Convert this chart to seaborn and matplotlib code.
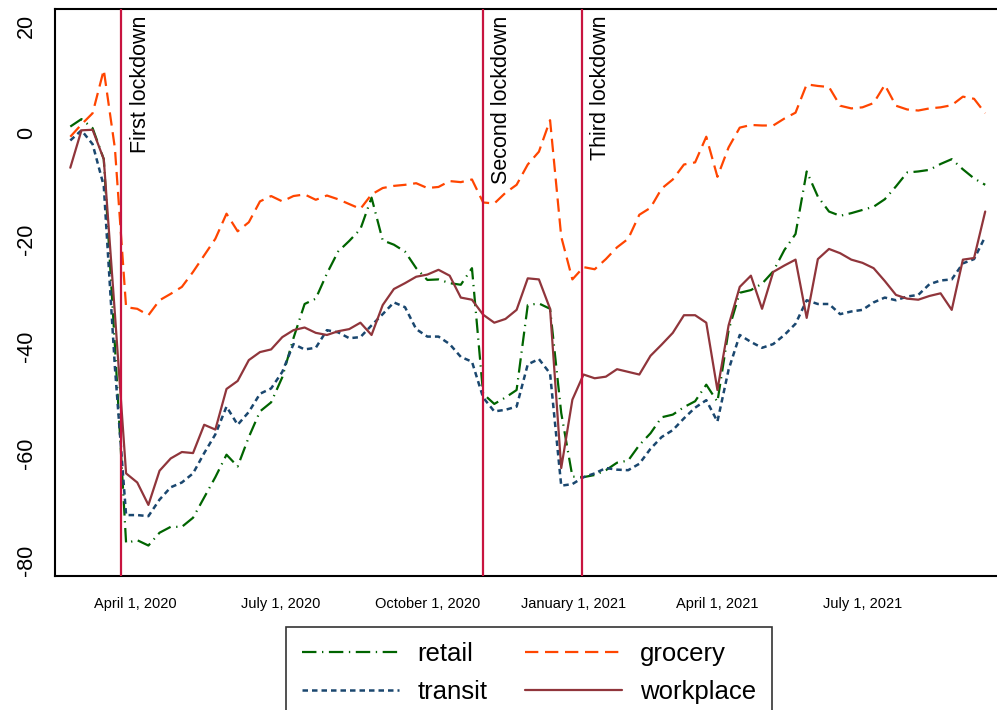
import numpy as np
import pandas as pd
import matplotlib
matplotlib.use("Agg")
import matplotlib.pyplot as plt
import seaborn as sns

# ---------------- data (weekly, % change from baseline) ----------------
start_date = "2020-02-20"
n_weeks = 83

retail = [1.1, 2.5, 0.8, -5.0, -40, -76.8, -76.3, -77.3, -74.9, -73.8,
          -73.8, -72.1, -68.3, -64.5, -60.3, -62.5, -57.0, -52.2, -50.5, -45.8,
          -38.5, -32.1, -31.1, -26.4, -22.3, -20.3, -18.1, -12.2, -20.2, -21.0,
          -22.3, -25.4, -27.6, -27.5, -28.2, -28.5, -25.4, -48.9, -50.8, -49.6,
          -48.2, -32.3, -32.0, -33.0, -52.5, -64.4, -64.5, -64.1, -63.2, -61.8,
          -61.4, -58.5, -56.3, -53.3, -52.8, -51.4, -50.3, -47.2, -50.4, -37.0,
          -30.0, -29.5, -28.3, -26.0, -22.0, -19.0, -7.3, -12.0, -14.8, -15.6,
          -15.1, -14.5, -13.9, -12.5, -10.1, -7.5, -7.3, -7.0, -5.9, -5.0,
          -6.9, -8.6, -9.8]

grocery = [-0.8, 1.5, 3.6, 11.7, -3.0, -32.7, -33.0, -34.2, -31.4, -30.2,
           -28.9, -26.1, -23.0, -19.9, -15.2, -18.5, -16.8, -12.9, -11.9, -12.9,
           -11.9, -11.6, -12.6, -11.8, -12.5, -13.4, -14.3, -11.6, -10.4, -10.0,
           -9.8, -9.5, -10.4, -10.2, -9.1, -9.3, -8.8, -13.1, -13.3, -11.3,
           -9.8, -6.0, -3.6, 2.3, -19.5, -27.5, -25.2, -25.6, -23.7, -21.5,
           -19.9, -15.4, -14.1, -10.5, -8.8, -6.0, -5.6, -0.8, -8.3, -2.8,
           0.9, 1.4, 1.3, 1.3, 2.6, 3.7, 9.0, 8.7, 8.5, 5.0,
           4.5, 4.7, 5.5, 8.9, 5.0, 4.3, 4.1, 4.5, 4.7, 5.1,
           6.7, 6.3, 3.6]

transit = [-1.5, 0.4, -2.2, -10.0, -44.0, -71.6, -71.6, -71.8, -68.7, -66.4,
           -65.5, -63.8, -60.0, -56.5, -51.3, -54.7, -52.3, -48.9, -47.9, -44.8,
           -39.6, -40.6, -40.3, -37.0, -37.4, -38.5, -38.3, -36.1, -34.0, -31.8,
           -32.7, -36.8, -38.2, -38.2, -39.6, -42.0, -42.9, -49.6, -52.2, -51.9,
           -51.3, -43.4, -42.4, -45.1, -66.1, -65.8, -64.5, -63.8, -62.8, -63.1,
           -63.2, -62.0, -59.2, -57.0, -55.7, -53.5, -51.5, -50.1, -54.1, -44.4,
           -37.9, -39.2, -40.3, -39.6, -37.9, -35.8, -31.4, -32.1, -32.1, -34.0,
           -33.5, -33.2, -31.8, -30.9, -31.4, -30.7, -30.4, -28.4, -27.7, -27.5,
           -24.5, -23.7, -19.5]

workplace = [-6.6, 0.4, 0.5, -5.0, -34.0, -63.8, -65.5, -69.7, -63.3, -61.0,
             -59.8, -60.0, -54.7, -55.6, -48.0, -46.5, -42.6, -41.1, -40.6, -38.3,
             -37.0, -36.5, -37.5, -37.9, -37.2, -36.8, -35.6, -37.9, -32.3, -29.3,
             -28.2, -27.0, -26.6, -25.7, -26.8, -30.9, -31.3, -34.1, -35.6, -34.9,
             -33.2, -27.3, -27.5, -33.0, -62.8, -50.0, -45.3, -46.0, -45.7, -44.3,
             -44.8, -45.3, -41.8, -39.7, -37.5, -34.2, -34.2, -35.6, -48.2, -36.1,
             -28.9, -26.8, -33.0, -26.1, -24.9, -23.8, -34.7, -23.7, -21.8, -22.6,
             -23.8, -24.4, -25.4, -27.8, -30.4, -31.1, -31.3, -30.6, -30.1, -33.2,
             -23.8, -23.5, -14.8]

lockdown_dates = ["2020-03-23", "2020-11-05", "2021-01-06"]
lockdown_labels = ["First lockdown", "Second lockdown", "Third lockdown"]

tick_dates = ["2020-04-01", "2020-07-01", "2020-10-01",
              "2021-01-01", "2021-04-01", "2021-07-01"]
tick_labels = ["April 1, 2020", "July 1, 2020", "October 1, 2020",
               "January 1, 2021", "April 1, 2021", "July 1, 2021"]
y_ticks = [20, 0, -20, -40, -60, -80]

# ---------------- build frame ----------------
dates = pd.date_range(start_date, periods=n_weeks, freq="7D")
df = pd.DataFrame({"date": dates, "retail": retail, "grocery": grocery,
                   "transit": transit, "workplace": workplace})

sns.set_theme(style="white")
plt.rcParams["font.family"] = ["Liberation Sans", "DejaVu Sans"]
for k in ["text.color", "axes.labelcolor", "xtick.color", "ytick.color"]:
    plt.rcParams[k] = "black"

fig = plt.figure(figsize=(9.97, 7.10), dpi=100)
ax = fig.add_axes([55 / 997, (710 - 576) / 710, (997 - 55) / 997, (576 - 9) / 710])

styles = {
    "retail":    dict(color="#006400", linestyle=(0, (6.5, 2.5, 0.6, 2.5)), lw=1.6),
    "transit":   dict(color="#1A476F", linestyle=(0, (2.2, 1.6)), lw=1.8),
    "grocery":   dict(color="#FF4500", linestyle=(0, (6.0, 3.0)), lw=1.6),
    "workplace": dict(color="#90353B", linestyle="-", lw=1.6),
}

handles = {}
for name in ["retail", "transit", "grocery", "workplace"]:
    st = styles[name]
    sns.lineplot(data=df, x="date", y=name, ax=ax, color=st["color"],
                 linestyle=st["linestyle"], linewidth=st["lw"],
                 estimator=None, label=name, legend=False)
    handles[name] = ax.get_lines()[-1]

for d, lab in zip(lockdown_dates, lockdown_labels):
    dd = pd.Timestamp(d)
    ax.axvline(dd, color="#C8143F", lw=1.6, zorder=3)
    ax.annotate(lab, xy=(dd, 21.9), xytext=(6, 0), textcoords="offset points",
                rotation=90, ha="left", va="top", fontsize=15.5, color="black")

x_left = pd.Timestamp("2020-04-01") - pd.Timedelta(days=50.6)
x_right = x_left + pd.Timedelta(days=591)
ax.set_xlim(x_left, x_right)
ax.set_ylim(-83.0, 23.1)

ax.set_xticks([pd.Timestamp(t) for t in tick_dates])
ax.set_xticklabels(tick_labels, fontsize=10.5)
ax.set_yticks(y_ticks)
ax.set_yticklabels([str(v) for v in y_ticks], fontsize=15.5, rotation=90, va="center")

ax.tick_params(axis="x", direction="out", length=6, width=1.2, pad=9, colors="black")
ax.tick_params(axis="y", direction="out", length=6, width=1.2, pad=7, colors="black")
ax.set_xlabel("")
ax.set_ylabel("")

for side in ["left", "bottom", "top"]:
    ax.spines[side].set_visible(True)
    ax.spines[side].set_color("black")
    ax.spines[side].set_linewidth(1.5)
ax.spines["right"].set_visible(False)
ax.grid(False)

leg = fig.legend([handles["retail"], handles["transit"], handles["grocery"], handles["workplace"]],
                 ["retail", "transit", "grocery", "workplace"],
                 ncol=2, loc="upper center", bbox_to_anchor=(529 / 997, 1 - 614 / 710),
                 fontsize=18.5, frameon=True, fancybox=False, shadow=False,
                 handlelength=3.8, handletextpad=0.7, columnspacing=1.45,
                 labelspacing=0.55, borderpad=0.6)
leg.get_frame().set_edgecolor("black")
leg.get_frame().set_linewidth(1.2)
for t in leg.get_texts():
    t.set_color("black")

fig.savefig("out.png", dpi=100, facecolor="white")
